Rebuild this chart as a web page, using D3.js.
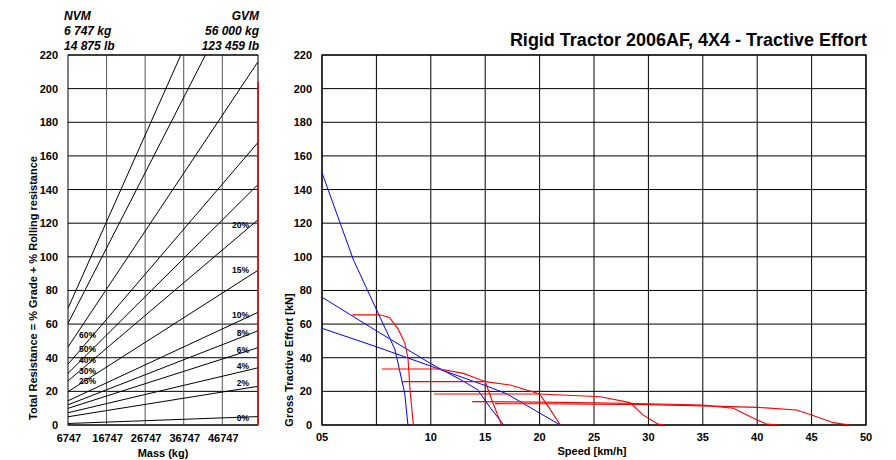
<!DOCTYPE html>
<html>
<head>
<meta charset="utf-8">
<script src="https://cdn.jsdelivr.net/npm/d3@7"></script>
<style>
  body { margin: 0; background: #fff; }
  text { font-family: "Liberation Sans", Arial, sans-serif; }
</style>
</head>
<body>
<svg id="chart" width="896" height="460"></svg>
<script>
// ---- data ----
const massTicks = [6747, 16747, 26747, 36747, 46747];
const nvm = 6747, gvm = 56000;
const gradeLabels = ['0%', '2%', '4%', '6%', '8%', '10%', '15%', '20%', '25%', '30%', '40%', '50%', '60%'];
// total resistance (kN) at NVM and at GVM for each grade line
const resistAtNvm = [0.9, 4.9, 7.3, 9.9, 12.0, 14.4, 19.8, 26.2, 30.7, 36.1, 46.4, 60.4, 69.4];
const resistAtGvm = [5, 23, 34, 46, 56, 67, 92, 122, 143, 168, 216, 281, 323];
const gvmMarkerTop = 204;

const speedTicks = [0, 5, 10, 15, 20, 25, 30, 35, 40, 45, 50];
const speedTickLabels = ['05', '', '10', '15', '20', '25', '30', '35', '40', '45', '50'];
const effortTicks = d3.range(0, 221, 20);

// blue curves: [speed km/h, effort kN]
const blueCurves = [
  [[0, 150], [2.9, 98], [6.7, 45], [7.6, 19], [7.9, 0]],
  [[0, 76], [5, 56], [10, 36.5], [13, 26], [14.3, 21], [15.5, 10], [16.7, 0]],
  [[0, 57.5], [5, 46.5], [10, 35], [15, 23.5], [17, 18.5], [19.5, 9], [21.9, 0]]
];
// red curves (gears)
const redCurves = [
  [[2.8, 65.5], [5.3, 65.5], [6.2, 64], [7.0, 57], [7.6, 49], [7.9, 40], [8.1, 20], [8.4, 0]],
  [[5.5, 33.3], [10.8, 33.3], [13, 30.7], [15, 25.8], [15.6, 15], [16.5, 0]],
  [[7.3, 25.8], [15, 25.8], [17.3, 23.8], [20, 18.4], [21, 9], [21.9, 0]],
  [[10.3, 18.4], [20, 18.4], [25.6, 16.8], [28.3, 13.3], [29.5, 6], [30.9, 0.5], [31.5, 0]],
  [[13.8, 13.9], [20, 13.6], [25, 13.2], [30, 12.6], [35, 11.8], [37.8, 10], [40, 3], [40.9, 0.5], [42, 0]],
  [[15.9, 12.7], [20, 12.6], [25, 12.4], [30, 12.1], [35, 11.4], [40, 10.5], [43.6, 8.9], [45, 6], [47, 1.4], [48.5, 0]]
];

const title = 'Rigid Tractor 2006AF, 4X4 - Tractive Effort';

// ---- layout ----
const svg = d3.select('#chart');
svg.append('rect').attr('width', 896).attr('height', 460).attr('fill', '#fff');

const plotTop = 55, plotBottom = 425;
const leftBox = { x0: 68, x1: 258 };
const rightBox = { x0: 322, x1: 866 };

const y = d3.scaleLinear().domain([0, 220]).range([plotBottom, plotTop]);
const xMass = d3.scaleLinear().domain([nvm, gvm]).range([leftBox.x0, leftBox.x1]);
const xSpeed = d3.scaleLinear().domain([0, 50]).range([rightBox.x0, rightBox.x1]);

const defs = svg.append('defs');
defs.append('clipPath').attr('id', 'clipL')
  .append('rect').attr('x', leftBox.x0).attr('y', plotTop)
  .attr('width', leftBox.x1 - leftBox.x0).attr('height', plotBottom - plotTop);
defs.append('clipPath').attr('id', 'clipR')
  .append('rect').attr('x', rightBox.x0).attr('y', plotTop)
  .attr('width', rightBox.x1 - rightBox.x0).attr('height', plotBottom - plotTop);

// ===== left chart: resistance vs mass =====
const gL = svg.append('g');

gL.selectAll('.hgrid').data(effortTicks).enter().append('line')
  .attr('x1', leftBox.x0).attr('x2', leftBox.x1)
  .attr('y1', d => y(d)).attr('y2', d => y(d))
  .attr('stroke', '#000').attr('stroke-width', 1);

gL.selectAll('.vgrid').data(massTicks.slice(1)).enter().append('line')
  .attr('x1', d => xMass(d)).attr('x2', d => xMass(d))
  .attr('y1', plotTop).attr('y2', plotBottom)
  .attr('stroke', '#555').attr('stroke-width', 1);

gL.append('rect').attr('x', leftBox.x0).attr('y', plotTop)
  .attr('width', leftBox.x1 - leftBox.x0).attr('height', plotBottom - plotTop)
  .attr('fill', 'none').attr('stroke', '#000').attr('stroke-width', 1);

gL.append('g').attr('clip-path', 'url(#clipL)')
  .selectAll('line').data(gradeLabels).enter().append('line')
  .attr('x1', xMass(nvm)).attr('y1', (d, i) => y(resistAtNvm[i]))
  .attr('x2', xMass(gvm)).attr('y2', (d, i) => y(resistAtGvm[i]))
  .attr('stroke', '#000').attr('stroke-width', 1);

// GVM marker
gL.append('line')
  .attr('x1', xMass(gvm)).attr('x2', xMass(gvm))
  .attr('y1', y(0)).attr('y2', y(gvmMarkerTop))
  .attr('stroke', '#e00').attr('stroke-width', 1.5);

// grade labels
const leftGroup = { '60%': 51.7, '50%': 43.4, '40%': 36.9, '30%': 30.3, '25%': 24.4 };
const rightGroup = { '20%': 117, '15%': 90.4, '10%': 63.6, '8%': 53, '6%': 42.8, '4%': 33.3, '2%': 23.2, '0%': 2.4 };
Object.entries(leftGroup).forEach(([t, v]) => {
  gL.append('text').attr('x', 79).attr('y', y(v))
    .attr('font-size', 8.5).attr('font-weight', 'bold').text(t);
});
Object.entries(rightGroup).forEach(([t, v]) => {
  gL.append('text').attr('x', xMass(gvm) - 9).attr('y', y(v))
    .attr('text-anchor', 'end')
    .attr('font-size', 8.5).attr('font-weight', 'bold').text(t);
});

// ticks
gL.selectAll('.ylab').data(effortTicks).enter().append('text')
  .attr('x', 58).attr('y', d => y(d) + 4)
  .attr('text-anchor', 'end').attr('font-size', 11).attr('font-weight', 'bold')
  .text(d => d);
gL.selectAll('.xlab').data(massTicks).enter().append('text')
  .attr('x', d => xMass(d) + 1).attr('y', 442)
  .attr('text-anchor', 'middle').attr('font-size', 11).attr('font-weight', 'bold')
  .text(d => d);

gL.append('text').attr('x', 163).attr('y', 457)
  .attr('text-anchor', 'middle').attr('font-size', 11).attr('font-weight', 'bold')
  .text('Mass (kg)');
gL.append('text').attr('transform', 'translate(37,288) rotate(-90)')
  .attr('text-anchor', 'middle').attr('font-size', 11).attr('font-weight', 'bold')
  .text('Total Resistance = % Grade + % Rolling resistance');

// NVM / GVM header
const hdr = [['NVM', 'GVM', 20], ['6 747 kg', '56 000 kg', 35], ['14 875 lb', '123 459 lb', 50]];
hdr.forEach(([a, b, yy]) => {
  gL.append('text').attr('x', 64).attr('y', yy)
    .attr('font-size', 12).attr('font-weight', 'bold').attr('font-style', 'italic').text(a);
  gL.append('text').attr('x', 259).attr('y', yy).attr('text-anchor', 'end')
    .attr('font-size', 12).attr('font-weight', 'bold').attr('font-style', 'italic').text(b);
});

// ===== right chart: tractive effort vs speed =====
const gR = svg.append('g');

gR.selectAll('.hgrid').data(effortTicks).enter().append('line')
  .attr('x1', rightBox.x0).attr('x2', rightBox.x1)
  .attr('y1', d => y(d)).attr('y2', d => y(d))
  .attr('stroke', '#000').attr('stroke-width', 1);
gR.selectAll('.vgrid').data(speedTicks).enter().append('line')
  .attr('x1', d => xSpeed(d)).attr('x2', d => xSpeed(d))
  .attr('y1', plotTop).attr('y2', plotBottom)
  .attr('stroke', '#000').attr('stroke-width', 1);
gR.append('rect').attr('x', rightBox.x0).attr('y', plotTop)
  .attr('width', rightBox.x1 - rightBox.x0).attr('height', plotBottom - plotTop)
  .attr('fill', 'none').attr('stroke', '#000').attr('stroke-width', 1.2);

const line = d3.line().x(d => xSpeed(d[0])).y(d => y(d[1]));
const curves = gR.append('g').attr('clip-path', 'url(#clipR)');
curves.selectAll('.blue').data(blueCurves).enter().append('path')
  .attr('d', line).attr('fill', 'none').attr('stroke', '#00f').attr('stroke-width', 1);
curves.selectAll('.red').data(redCurves).enter().append('path')
  .attr('d', line).attr('fill', 'none').attr('stroke', '#f00').attr('stroke-width', 1.1);

gR.selectAll('.ylab').data(effortTicks).enter().append('text')
  .attr('x', 312).attr('y', d => y(d) + 4)
  .attr('text-anchor', 'end').attr('font-size', 11).attr('font-weight', 'bold')
  .text(d => d);
gR.selectAll('.xlab').data(speedTicks).enter().append('text')
  .attr('x', d => xSpeed(d)).attr('y', 441)
  .attr('text-anchor', 'middle').attr('font-size', 11).attr('font-weight', 'bold')
  .text((d, i) => speedTickLabels[i]);

gR.append('text').attr('x', 592).attr('y', 455)
  .attr('text-anchor', 'middle').attr('font-size', 11).attr('font-weight', 'bold')
  .text('Speed [km/h]');
gR.append('text').attr('transform', 'translate(293,360) rotate(-90)')
  .attr('text-anchor', 'middle').attr('font-size', 11).attr('font-weight', 'bold')
  .text('Gross Tractive Effort [kN]');

svg.append('text').attr('x', 867).attr('y', 46)
  .attr('text-anchor', 'end').attr('font-size', 18).attr('font-weight', 'bold')
  .text(title);
</script>
</body>
</html>
